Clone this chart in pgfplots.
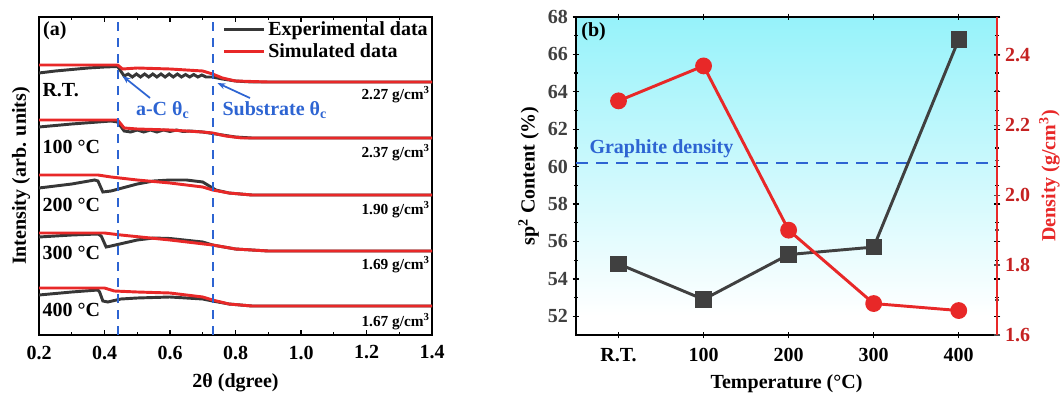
\documentclass[border=0pt]{standalone}
\usepackage{pgfplots}
\pgfplotsset{compat=1.18}
\usetikzlibrary{arrows.meta}
\usepackage{fontspec}
\setmainfont{Liberation Serif}
\definecolor{redc}{RGB}{232,40,40}
\definecolor{blk}{RGB}{55,55,55}
\definecolor{bluec}{RGB}{45,100,210}
\definecolor{bgcyan}{RGB}{150,242,250}
\definecolor{sq}{RGB}{64,64,64}
\pgfdeclareverticalshading{bgshade}{100bp}{color(0bp)=(white); color(28bp)=(white); color(75bp)=(bgcyan); color(100bp)=(bgcyan)}
\newcommand\fs[1]{\fontsize{#1}{#1}\selectfont}
\begin{document}
\begin{tikzpicture}
\useasboundingbox (0,0) rectangle (795.75pt,297.75pt);
% ---------------- panel (a)
\begin{axis}[at={(29.25pt,46.5pt)}, anchor=south west, scale only axis,
  width=294.75pt, height=238.5pt,
  xmin=0.2, xmax=1.4, ymin=0, ymax=318,
  ytick=\empty,
  xtick={0.2,0.4,0.6,0.8,1.0,1.2,1.4}, minor x tick num=1,
  tick align=inside, major tick length=4pt, minor tick length=2.5pt,
  axis line style={line width=1.3pt}, tick style={line width=1pt, black},
  xticklabel style={yshift=-4.5pt, font=\bfseries\fs{15}, /pgf/number format/.cd, fixed, fixed zerofill, precision=1, assume math mode=true},
  xlabel={\bfseries\fs{15}2θ (dgree)},
  xlabel style={yshift=-4pt},
  ylabel={\bfseries\fs{15}Intensity (arb. units)},
  ylabel style={yshift=3pt},
  legend style={at={(1,1)}, anchor=north east, draw=none, fill=none, font=\bfseries\fs{15}, cells={anchor=west}, inner sep=1pt, row sep=1pt},
  legend image code/.code={\draw[#1, line width=2.2pt] (0pt,0pt) -- (30pt,0pt);},
]
% R.T.
\addplot[blk, line width=2.2pt] coordinates {(0.2,262) (0.25,264) (0.3,265.5) (0.35,267) (0.4,268) (0.44,268.5) (0.46,259)
 (0.4725,261) (0.485,258) (0.4975,261) (0.51,258) (0.5225,261) (0.535,258) (0.5475,261) (0.56,258) (0.5725,261) (0.585,258)
 (0.5975,261) (0.61,258) (0.6225,261) (0.635,258) (0.6475,260.5) (0.66,258) (0.6725,260.5) (0.685,258) (0.6975,260) (0.71,258)
 (0.73,258) (0.76,256) (0.8,254) (0.85,253) (1.4,253)};
\addlegendentry{Experimental data}
\addplot[redc, line width=2.2pt] coordinates {(0.2,270) (0.44,270) (0.455,266) (0.5,267) (0.6,266) (0.7,264) (0.73,261) (0.76,257) (0.8,254) (0.9,253) (1.4,253)};
\addlegendentry{Simulated data}
% 100
\addplot[blk, line width=2.2pt, forget plot] coordinates {(0.2,208) (0.3,211) (0.42,214) (0.44,213) (0.46,204) (0.48,203)
 (0.5,205) (0.52,203) (0.54,205) (0.56,203) (0.58,205) (0.6,203.5) (0.62,205) (0.64,203.5) (0.66,204) (0.7,203) (0.72,202) (0.76,200) (0.8,198) (0.85,197) (1.4,197)};
\addplot[redc, line width=2.2pt, forget plot] coordinates {(0.2,215) (0.44,215) (0.46,207) (0.5,206) (0.6,205) (0.7,203) (0.73,202) (0.77,199) (0.82,197) (1.4,197)};
% 200
\addplot[blk, line width=2.2pt, forget plot] coordinates {(0.2,147) (0.3,151) (0.37,155) (0.38,154) (0.395,143) (0.42,144) (0.5,151) (0.55,154) (0.6,155) (0.65,155) (0.7,153) (0.72,149) (0.74,145) (0.78,142) (0.85,140) (1.4,140)};
\addplot[redc, line width=2.2pt, forget plot] coordinates {(0.2,160) (0.38,160) (0.42,158) (0.5,155) (0.6,152) (0.7,148) (0.73,145) (0.78,142) (0.85,140) (1.4,140)};
% 300
\addplot[blk, line width=2.2pt, forget plot] coordinates {(0.2,98) (0.3,100) (0.38,101) (0.39,99) (0.405,88) (0.42,89) (0.5,95) (0.55,97) (0.6,96.5) (0.7,93) (0.73,90) (0.8,86) (0.9,84) (1.4,84)};
\addplot[redc, line width=2.2pt, forget plot] coordinates {(0.2,102) (0.4,102) (0.45,100) (0.6,95) (0.73,90) (0.8,86) (0.9,84) (1.4,84)};
% 400
\addplot[blk, line width=2.2pt, forget plot] coordinates {(0.2,40) (0.3,43) (0.38,45) (0.385,43) (0.395,34) (0.41,33) (0.45,36) (0.5,37) (0.6,38) (0.7,36) (0.73,34) (0.78,31) (0.85,29) (1.4,29)};
\addplot[redc, line width=2.2pt, forget plot] coordinates {(0.2,47) (0.4,47) (0.43,44) (0.5,43) (0.6,42) (0.7,38) (0.73,35) (0.78,31) (0.85,29) (1.4,29)};
% critical angles
\addplot[bluec, line width=1.4pt, dash pattern=on 7pt off 5pt, forget plot] coordinates {(0.441,0) (0.441,318)};
\addplot[bluec, line width=1.4pt, dash pattern=on 7pt off 5pt, forget plot] coordinates {(0.731,0) (0.731,318)};
\draw[bluec, line width=1.3pt, -{Stealth[length=6pt]}] (axis cs:0.539,237) -- (axis cs:0.455,259);
\draw[bluec, line width=1.3pt, -{Stealth[length=6pt]}] (axis cs:0.844,237) -- (axis cs:0.745,252);
\node[bluec, font=\bfseries\fs{15}] at (axis cs:0.578,225) {a-C θ\textsubscript{c}};
\node[bluec, font=\bfseries\fs{15}] at (axis cs:0.92,225) {Substrate θ\textsubscript{c}};
% labels
\node[anchor=north west, font=\bfseries\fs{15}, inner sep=0pt] at (axis cs:0.212,314) {(a)};
\node[anchor=west, font=\bfseries\fs{15}, inner sep=0pt] at (axis cs:0.21,245) {R.T.};
\node[anchor=west, font=\bfseries\fs{15}, inner sep=0pt] at (axis cs:0.21,188) {100 °C};
\node[anchor=west, font=\bfseries\fs{15}, inner sep=0pt] at (axis cs:0.21,130) {200 °C};
\node[anchor=west, font=\bfseries\fs{15}, inner sep=0pt] at (axis cs:0.21,82) {300 °C};
\node[anchor=west, font=\bfseries\fs{15}, inner sep=0pt] at (axis cs:0.21,25) {400 °C};
\node[anchor=east, font=\bfseries\fs{11.5}, inner sep=0pt] at (axis cs:1.394,240) {2.27 g/cm\textsuperscript{3}};
\node[anchor=east, font=\bfseries\fs{11.5}, inner sep=0pt] at (axis cs:1.394,182) {2.37 g/cm\textsuperscript{3}};
\node[anchor=east, font=\bfseries\fs{11.5}, inner sep=0pt] at (axis cs:1.394,125) {1.90 g/cm\textsuperscript{3}};
\node[anchor=east, font=\bfseries\fs{11.5}, inner sep=0pt] at (axis cs:1.394,70) {1.69 g/cm\textsuperscript{3}};
\node[anchor=east, font=\bfseries\fs{11.5}, inner sep=0pt] at (axis cs:1.394,13) {1.67 g/cm\textsuperscript{3}};
\end{axis}
% ---------------- panel (b)
\begin{axis}[at={(432pt,46.5pt)}, anchor=south west, scale only axis,
  width=315.75pt, height=238.5pt,
  xmin=-0.5, xmax=4.45, ymin=51, ymax=68,
  axis background/.style={shading=bgshade},
  xtick={0,1,2,3,4}, xticklabels={R.T.,100,200,300,400},
  ytick={52,54,56,58,60,62,64,66,68}, minor y tick num=1,
  tick align=center, major tick length=5pt, minor tick length=3pt,
  axis line style={line width=1.3pt}, tick style={line width=1pt, black},
  ticklabel style={font=\bfseries\fs{15}, /pgf/number format/assume math mode=true},
  xticklabel style={yshift=-4pt},
  yticklabel style={text=black!75},
  xlabel={\bfseries\fs{15}Temperature (°C)},
  xlabel style={yshift=-3pt},
  ylabel={\bfseries\fs{15}sp\textsuperscript{2} Content (\%)},
]
\addplot[bluec, line width=1.4pt, dash pattern=on 9pt off 6pt] coordinates {(-0.5,60.2) (4.45,60.2)};
\addplot[sq, line width=2.2pt, mark=square*, mark size=5pt, mark options={fill=sq, draw=sq}] coordinates {(0,54.8) (1,52.9) (2,55.3) (3,55.7) (4,66.8)};
\node[bluec, anchor=south west, font=\bfseries\fs{15}, inner sep=1pt] at (axis cs:-0.36,60.4) {Graphite density};
\node[anchor=north west, font=\bfseries\fs{15}, inner sep=0pt] at (axis cs:-0.44,67.7) {(b)};
\end{axis}
\begin{axis}[at={(432pt,46.5pt)}, anchor=south west, scale only axis,
  width=315.75pt, height=238.5pt,
  xmin=-0.5, xmax=4.45, ymin=1.6, ymax=2.51,
  axis x line=none, axis y line*=right,
  ytick={1.6,1.8,2.0,2.2,2.4}, minor y tick num=1,
  tick align=center, major tick length=5pt, minor tick length=3pt,
  axis line style={line width=1.3pt, redc}, tick style={line width=1pt, black!70},
  yticklabel style={font=\bfseries\fs{15}, text=redc!85!black, /pgf/number format/.cd, fixed, fixed zerofill, precision=1, assume math mode=true},
  ylabel={\bfseries\fs{15}Density (g/cm\textsuperscript{3})},
  ylabel style={text=redc},
]
\addplot[redc, line width=2.2pt, mark=*, mark size=5.2pt, mark options={fill=redc, draw=redc}] coordinates {(0,2.27) (1,2.37) (2,1.90) (3,1.69) (4,1.67)};
\end{axis}
\end{tikzpicture}
\end{document}
